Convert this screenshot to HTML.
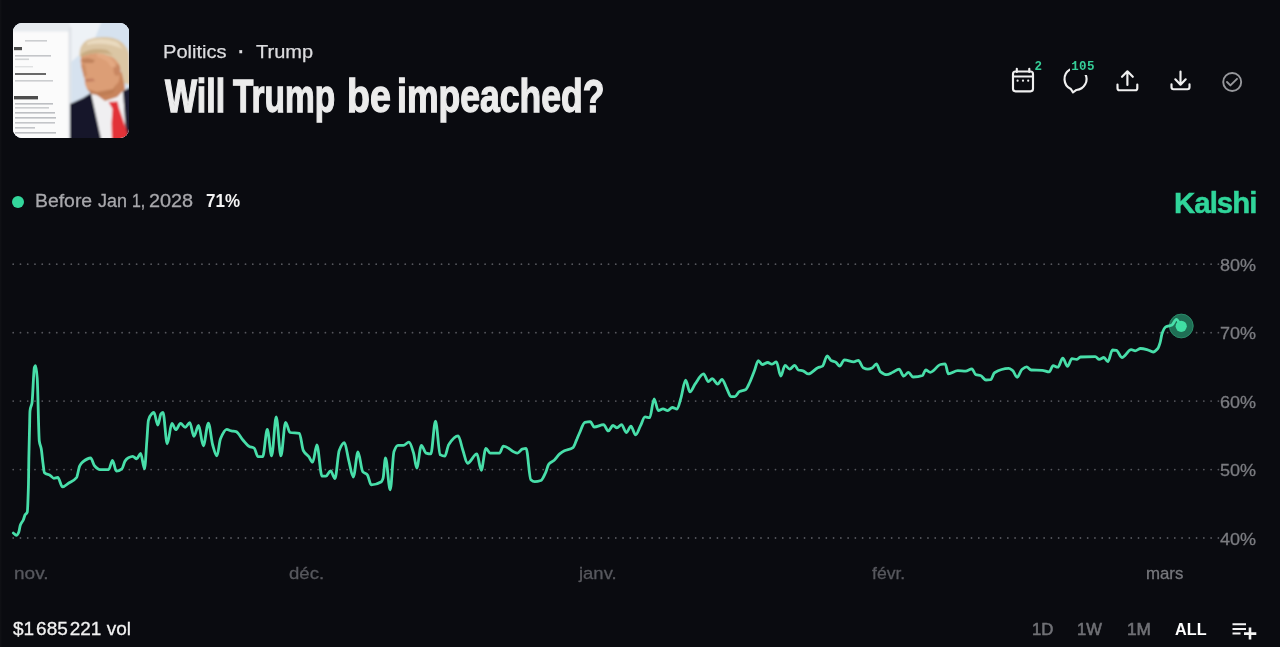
<!DOCTYPE html>
<html lang="fr"><head><meta charset="utf-8"><title>Will Trump be impeached?</title>
<style>
*{margin:0;padding:0;box-sizing:border-box}
html,body{width:1280px;height:647px;overflow:hidden;background:#0a0b10}
body{background:linear-gradient(to right,#111216 0,#0a0b10 2px)}
body{position:relative;font-family:"Liberation Sans",sans-serif;color:#fff}
.t{position:absolute;white-space:nowrap;transform-origin:0 50%}
.thumb{position:absolute;left:13px;top:23px;width:116px;height:115px;border-radius:9px;overflow:hidden;background:#e9eef3}
.dot{position:absolute;left:12.300px;top:195.900px;width:12px;height:12px;border-radius:50%;background:#33d69b}
.badge{position:absolute;font-family:"Liberation Mono",monospace;font-weight:700;font-size:12.500px;line-height:12px;letter-spacing:.3px;color:#36cf98;background:#0a0b10;white-space:nowrap}
svg{position:absolute;left:0;top:0;overflow:visible}
</style></head><body>

<div class="thumb">
<svg width="116" height="115" viewBox="0 0 116 115">
<defs><filter id="b1"><feGaussianBlur stdDeviation="1.2"/></filter><filter id="b2"><feGaussianBlur stdDeviation=".6"/></filter></defs>
<rect width="116" height="115" fill="#dfe8f1"/>
<g filter="url(#b1)">
<rect x="57" y="-5" width="70" height="95" fill="#d6e2ef"/>
<path d="M57 -5H90L80 20L57 40Z" fill="#eef2f6"/>
<rect x="-5" y="-5" width="62" height="14" fill="#e6eaee"/>
<rect x="-5" y="8.500" width="62" height="115" fill="#fbfbfb"/>
<rect x="55.500" y="4" width="3" height="115" fill="#dfe3e8"/>
<path d="M57 81L70 75L78 70L92 118L57 125Z" fill="#15182a"/>
<path d="M78 70L84 64L112 62L120 125H90Z" fill="#f0eff1"/>
<path d="M110 68L118 64V125H114Z" fill="#1b1e30"/>
<path d="M82 60L84 72L92 78L104 74L112 66L110 48Z" fill="#c8845c"/>
<path d="M68.500 30L67.500 38L68.500 44L70 50L71.500 55L72 61L74 66L80 70.500L90 71.500L100 68L106 58L108 42L100 30L84 25Z" fill="#dc9e76"/>
<path d="M68 36L75 35L82 37L80 40L70 40Z" fill="#b57852" opacity=".7"/>
<path d="M72 56L80 55.500L82 58L73 59Z" fill="#b66f55" opacity=".7"/>
<ellipse cx="104" cy="47" rx="3.500" ry="6" fill="#c98762"/>
<path d="M68 42L72 41L74 52L71 55Z" fill="#c98a63" opacity=".8"/>
<path d="M74 66L84 69L100 66L104 60L100 70L88 73L78 71Z" fill="#b9774f" opacity=".8"/>
<path d="M84 30Q94 30 100 38L104 44L98 44Q94 36 84 34Z" fill="#e8b08a" opacity=".6"/>
<path d="M66.500 33Q66 22 74 17Q86 12 100 15Q112 18 116 30L117 62L111 60Q109 50 106.500 42Q102 34 96 33Q84 27 67 34Z" fill="#dbc6a4"/>
<path d="M68 31Q78 24 94 27L100 32Q84 27 68 34Z" fill="#c9ac82"/>
<path d="M74 19Q88 13 104 19L110 26Q92 18 74 22Z" fill="#ecdfc6" opacity=".8"/>
<path d="M95.500 79L104.500 78.500L106 85L114.500 110L113 118L99 118L98.500 100L99.500 86Z" fill="#e23339"/>
</g>
<g filter="url(#b2)" fill="#9a9da2" opacity=".8">
<rect x="12" y="17" width="22" height="1.6" opacity=".6"/>
<rect x="1" y="24" width="8" height="3.2" fill="#222"/>
<rect x="2" y="32" width="36" height="1.6" opacity=".7"/><rect x="2" y="35.500" width="14" height="1.6" opacity=".5"/>
<rect x="2" y="43" width="18" height="1.4" opacity=".35"/>
<rect x="2" y="50" width="31" height="2" fill="#444"/>
<rect x="2" y="57" width="38" height="1.6" opacity=".6"/>
<rect x="1" y="73" width="24" height="3.4" fill="#222"/>
<rect x="2" y="80" width="38" height="1.6" opacity=".8"/><rect x="2" y="84" width="34" height="1.6" opacity=".6"/>
<rect x="2" y="89" width="40" height="1.6" opacity=".8"/><rect x="2" y="94" width="41" height="1.6" opacity=".8"/>
<rect x="2" y="99" width="40" height="1.6" opacity=".7"/><rect x="2" y="104" width="20" height="1.6" opacity=".7"/>
<rect x="2" y="109" width="41" height="1.6" opacity=".8"/>
</g>
</svg>
</div>


<div class="dot"></div>
<div class="t" style="left:165.45px;top:68.88px;transform:scaleX(0.7475);font-weight:700;font-size:45.5px;line-height:56px;color:#ececec;-webkit-text-stroke:1.3px #ececec;">Will</div>
<div class="t" style="left:233.00px;top:68.88px;transform:scaleX(0.7348);font-weight:700;font-size:45.5px;line-height:56px;color:#ececec;-webkit-text-stroke:1.3px #ececec;">Trump</div>
<div class="t" style="left:346.75px;top:68.88px;transform:scaleX(0.8260);font-weight:700;font-size:45.5px;line-height:56px;color:#ececec;-webkit-text-stroke:1.3px #ececec;">be</div>
<div class="t" style="left:397.19px;top:68.88px;transform:scaleX(0.7815);font-weight:700;font-size:45.5px;line-height:56px;color:#ececec;-webkit-text-stroke:1.3px #ececec;">impeached?</div>
<div class="t" style="left:163.28px;top:40.65px;transform:scaleX(1.1161);font-size:18px;line-height:22px;color:#dcdcdf;-webkit-text-stroke:.25px #dcdcdf;">Politics</div>
<div class="t" style="left:238.20px;top:40.65px;transform:scaleX(1.0000);font-size:18px;line-height:22px;color:#dcdcdf;-webkit-text-stroke:.25px #dcdcdf;font-weight:700;">·</div>
<div class="t" style="left:255.60px;top:40.65px;transform:scaleX(1.1108);font-size:18px;line-height:22px;color:#dcdcdf;-webkit-text-stroke:.25px #dcdcdf;">Trump</div>
<div class="t" style="left:35.42px;top:190.45px;transform:scaleX(1.0769);font-size:18px;line-height:22px;color:#a8a8ac;-webkit-text-stroke:.3px #a8a8ac;">Before</div>
<div class="t" style="left:98.20px;top:190.45px;transform:scaleX(0.9964);font-size:18px;line-height:22px;color:#a8a8ac;-webkit-text-stroke:.3px #a8a8ac;">Jan</div>
<div class="t" style="left:131.62px;top:190.45px;transform:scaleX(0.8846);font-size:18px;line-height:22px;color:#a8a8ac;-webkit-text-stroke:.3px #a8a8ac;">1,</div>
<div class="t" style="left:149.40px;top:190.45px;transform:scaleX(1.1026);font-size:18px;line-height:22px;color:#a8a8ac;-webkit-text-stroke:.3px #a8a8ac;">2028</div>
<div class="t" style="left:205.56px;top:190.45px;transform:scaleX(0.9429);font-size:18px;line-height:22px;font-weight:700;color:#f4f4f4;">71%</div>
<div class="t" style="left:1173.94px;top:184.55px;transform:scaleX(0.9802);font-size:30px;line-height:36px;font-weight:700;color:#30d59a;letter-spacing:-1px;-webkit-text-stroke:.5px #30d59a;">Kalshi</div>
<div class="t" style="left:12.50px;top:618.38px;transform:scaleX(0.9991);font-size:19px;line-height:22px;color:#f1f1f1;-webkit-text-stroke:.3px #f1f1f1;">$1<span style="font-size:7px"> </span>685<span style="font-size:7px"> </span>221 vol</div>
<div class="t" style="left:1032.22px;top:618.90px;transform:scaleX(0.9850);font-size:17px;line-height:22px;color:#707176;-webkit-text-stroke:.6px #707176;">1D</div>
<div class="t" style="left:1076.92px;top:618.90px;transform:scaleX(0.9760);font-size:17px;line-height:22px;color:#707176;-webkit-text-stroke:.6px #707176;">1W</div>
<div class="t" style="left:1126.69px;top:618.90px;transform:scaleX(1.0136);font-size:17px;line-height:22px;color:#707176;-webkit-text-stroke:.6px #707176;">1M</div>
<div class="t" style="left:1175.40px;top:618.90px;transform:scaleX(0.9545);font-size:17px;line-height:22px;color:#fff;font-weight:700;">ALL</div>
<div class="t" style="left:14.48px;top:563.88px;transform:scaleX(1.1179);font-size:17px;line-height:20px;color:#57585e;-webkit-text-stroke:.3px #57585e;">nov.</div>
<div class="t" style="left:288.66px;top:563.88px;transform:scaleX(1.0917);font-size:17px;line-height:20px;color:#57585e;-webkit-text-stroke:.3px #57585e;">déc.</div>
<div class="t" style="left:578.75px;top:563.88px;transform:scaleX(1.0864);font-size:17px;line-height:20px;color:#57585e;-webkit-text-stroke:.3px #57585e;">janv.</div>
<div class="t" style="left:871.90px;top:563.88px;transform:scaleX(1.0355);font-size:17px;line-height:20px;color:#57585e;-webkit-text-stroke:.3px #57585e;">févr.</div>
<div class="t" style="left:1145.91px;top:563.88px;transform:scaleX(0.9889);font-size:17px;line-height:20px;color:#77787d;-webkit-text-stroke:.3px #77787d;">mars</div>
<div class="t" style="left:1219.56px;top:255.80px;transform:scaleX(1.0600);font-size:17px;line-height:20px;color:#7b7c81;-webkit-text-stroke:.3px #7b7c81;">80%</div>
<div class="t" style="left:1219.56px;top:324.30px;transform:scaleX(1.0600);font-size:17px;line-height:20px;color:#7b7c81;-webkit-text-stroke:.3px #7b7c81;">70%</div>
<div class="t" style="left:1219.56px;top:392.70px;transform:scaleX(1.0600);font-size:17px;line-height:20px;color:#7b7c81;-webkit-text-stroke:.3px #7b7c81;">60%</div>
<div class="t" style="left:1219.56px;top:461.20px;transform:scaleX(1.0600);font-size:17px;line-height:20px;color:#7b7c81;-webkit-text-stroke:.3px #7b7c81;">50%</div>
<div class="t" style="left:1219.56px;top:529.60px;transform:scaleX(1.0600);font-size:17px;line-height:20px;color:#7b7c81;-webkit-text-stroke:.3px #7b7c81;">40%</div>

<svg width="1280" height="647" viewBox="0 0 1280 647">
<g stroke="#56575d" stroke-width="1.800" stroke-linecap="round" stroke-dasharray="0.01 7.25" fill="none"><line x1="13.2" x2="1219.5" y1="264.2" y2="264.2"/><line x1="13.2" x2="1219.5" y1="332.7" y2="332.7"/><line x1="13.2" x2="1219.5" y1="401.1" y2="401.1"/><line x1="13.2" x2="1219.5" y1="469.6" y2="469.6"/><line x1="13.2" x2="1219.5" y1="538.0" y2="538.0"/></g>
<circle cx="1181.300" cy="326" r="11.900" fill="#1f6f55" stroke="#2a8a68" stroke-width="1"/>
<path d="M13.3 533.0C14.3 533.8 15.4 535.3 16.4 535.3C17.2 535.3 18.0 533.9 18.8 532.2C19.3 531.1 19.8 526.6 20.3 525.2C21.3 522.4 22.4 522.0 23.4 519.7C23.9 518.5 24.5 516.0 25.0 515.0C25.8 513.6 26.5 514.1 27.3 511.9C27.7 510.9 28.0 499.9 28.4 486.9C28.6 481.0 28.7 464.1 28.9 455.6C29.1 445.4 29.3 438.0 29.5 430.0C29.7 423.3 29.8 412.3 30.0 410.9C30.7 405.2 31.3 407.1 32.0 403.0C32.8 398.1 33.6 369.0 34.4 367.2C34.8 366.3 35.2 365.6 35.6 365.6C36.1 365.6 36.7 371.6 37.2 378.0C37.9 386.4 38.6 436.2 39.3 441.0C39.9 445.4 40.6 445.1 41.2 448.5C41.8 451.7 42.4 459.1 43.0 463.4C43.5 467.0 44.0 472.3 44.5 472.8C46.3 474.6 48.2 474.1 50.0 475.2C51.3 475.9 52.6 478.3 53.9 478.3C55.2 478.3 56.5 477.5 57.8 477.5C59.4 477.5 60.9 486.9 62.5 486.9C64.6 486.9 66.7 484.4 68.8 483.0C71.4 481.3 74.0 480.9 76.6 477.5C77.6 476.1 78.7 467.8 79.7 465.8C80.7 463.9 81.8 462.7 82.8 461.9C85.4 459.9 88.0 458.0 90.6 458.0C91.9 458.0 93.2 464.4 94.5 465.8C96.3 467.8 98.2 469.7 100.0 469.7C102.9 469.7 105.7 469.7 108.6 469.7C109.9 469.7 111.2 460.3 112.5 460.3C113.8 460.3 115.1 471.2 116.4 471.2C118.2 471.2 120.1 470.3 121.9 468.9C122.9 468.1 124.0 462.6 125.0 461.1C126.0 459.6 127.1 458.5 128.1 458.0C129.7 457.2 131.2 456.4 132.8 456.4C134.1 456.4 135.4 458.8 136.7 458.8C138.0 458.8 139.3 453.3 140.6 453.3C141.9 453.3 143.2 468.9 144.5 468.9C145.3 468.9 146.1 450.1 146.9 440.0C147.4 433.7 147.9 422.2 148.4 420.3C149.5 416.3 150.5 415.0 151.6 414.0C152.4 413.3 153.1 412.5 153.9 412.5C155.2 412.5 156.5 425.0 157.8 425.0C158.8 425.0 159.9 415.2 160.9 414.0C161.6 413.2 162.3 412.5 163.0 412.5C164.4 412.5 165.8 443.8 167.2 443.8C168.8 443.8 170.3 423.4 171.9 423.4C173.2 423.4 174.5 429.7 175.8 429.7C177.4 429.7 178.9 423.4 180.5 423.4C182.1 423.4 183.6 427.3 185.2 427.3C186.7 427.3 188.3 422.7 189.8 422.7C191.2 422.7 192.5 436.4 193.9 436.4C195.5 436.4 197.0 425.5 198.6 425.5C200.2 425.5 201.7 445.8 203.3 445.8C205.0 445.8 206.7 423.1 208.4 423.1C209.8 423.1 211.3 440.1 212.7 445.0C214.1 449.8 215.5 455.9 216.9 455.9C218.1 455.9 219.3 441.6 220.5 438.8C222.6 433.8 224.6 429.4 226.7 429.4C228.3 429.4 229.8 430.6 231.4 430.9C233.0 431.2 234.5 431.3 236.1 431.7C238.4 432.4 240.8 437.7 243.1 440.3C245.2 442.6 247.3 445.6 249.4 446.6C251.0 447.3 252.5 447.2 254.1 448.1C255.4 448.8 256.7 456.7 258.0 456.7C259.6 456.7 261.1 456.7 262.7 456.7C264.2 456.7 265.8 429.4 267.3 429.4C268.7 429.4 270.2 455.9 271.6 455.9C273.2 455.9 274.7 416.9 276.2 416.9C277.8 416.9 279.3 455.9 280.9 455.9C282.5 455.9 284.0 422.3 285.6 422.3C287.1 422.3 288.5 432.2 290.0 432.5C293.1 433.1 296.3 432.7 299.4 433.3C300.7 433.6 302.0 448.1 303.3 450.5C305.1 453.9 306.9 454.4 308.8 456.7C310.1 458.4 311.4 462.2 312.7 462.2C314.1 462.2 315.5 445.0 316.9 445.0C318.6 445.0 320.3 476.2 322.0 476.2C323.3 476.2 324.6 476.2 325.9 476.2C327.5 476.2 329.0 470.8 330.6 470.8C332.1 470.8 333.5 478.6 335.0 478.6C336.4 478.6 337.8 454.0 339.2 450.5C340.9 446.2 342.7 442.7 344.4 442.7C345.8 442.7 347.2 454.4 348.6 459.8C350.2 465.8 351.7 477.0 353.3 477.0C354.9 477.0 356.4 452.0 358.0 452.0C359.6 452.0 361.1 469.8 362.7 471.6C364.2 473.4 365.8 473.0 367.3 474.7C368.6 476.1 369.9 484.8 371.2 484.8C374.6 484.8 378.0 483.9 381.4 481.7C382.0 481.3 382.5 480.0 383.1 478.1C383.9 475.5 384.7 457.8 385.5 457.8C387.1 457.8 388.6 489.8 390.2 489.8C391.5 489.8 392.7 455.1 394.0 451.6C395.3 447.9 396.7 445.3 398.0 445.3C399.8 445.3 401.6 445.3 403.4 445.3C405.2 445.3 407.1 442.2 408.9 442.2C410.5 442.2 412.0 448.1 413.6 453.1C414.6 456.4 415.7 468.0 416.7 468.0C418.3 468.0 419.8 445.3 421.4 445.3C423.0 445.3 424.5 452.6 426.1 453.1C427.7 453.6 429.2 453.9 430.8 453.9C432.4 453.9 433.9 421.1 435.5 421.1C437.1 421.1 438.6 453.7 440.2 454.7C441.7 455.7 443.3 456.2 444.8 456.2C446.1 456.2 447.4 446.5 448.8 444.5C451.9 439.8 455.0 435.9 458.1 435.9C459.7 435.9 461.2 445.4 462.8 450.0C464.4 454.6 465.9 463.3 467.5 463.3C470.6 463.3 473.8 453.9 476.9 453.9C478.3 453.9 479.8 470.3 481.2 470.3C482.8 470.3 484.3 448.4 485.9 448.4C487.3 448.4 488.8 453.1 490.2 453.1C493.3 453.1 496.4 453.1 499.5 453.1C500.8 453.1 502.1 446.1 503.4 446.1C508.1 446.1 512.8 453.1 517.5 453.1C519.1 453.1 520.6 449.7 522.2 449.2C523.5 448.8 524.8 448.4 526.1 448.4C527.7 448.4 529.2 478.3 530.8 479.7C532.1 480.8 533.4 481.6 534.7 481.6C536.8 481.6 538.8 481.2 540.9 480.5C542.5 480.0 544.0 476.0 545.6 472.7C546.6 470.5 547.7 465.4 548.8 464.1C550.6 461.9 552.4 461.8 554.2 460.2C556.0 458.6 557.9 455.4 559.7 453.9C561.3 452.6 562.8 451.6 564.4 450.8C567.3 449.4 570.1 449.7 573.0 447.7C574.3 446.8 575.6 442.0 576.9 439.1C577.7 437.2 578.6 435.1 579.4 433.3C581.2 429.4 583.0 422.7 584.8 422.3C586.6 421.9 588.5 421.6 590.3 421.6C591.6 421.6 592.9 427.0 594.2 427.0C597.3 427.0 600.5 424.7 603.6 424.7C605.2 424.7 606.7 430.9 608.3 430.9C609.9 430.9 611.4 425.5 613.0 425.5C614.3 425.5 615.6 427.8 616.9 427.8C618.5 427.8 620.0 424.7 621.6 424.7C623.1 424.7 624.7 432.5 626.2 432.5C627.8 432.5 629.4 426.2 630.9 426.2C632.5 426.2 634.0 434.8 635.6 434.8C637.2 434.8 638.7 429.2 640.3 426.2C641.9 423.3 643.4 416.9 645.0 416.9C646.6 416.9 648.1 417.7 649.7 417.7C651.2 417.7 652.6 398.9 654.1 398.9C655.5 398.9 656.9 410.6 658.3 410.6C659.9 410.6 661.4 408.8 663.0 408.8C664.6 408.8 666.1 410.6 667.7 410.6C669.2 410.6 670.8 407.5 672.3 407.5C673.9 407.5 675.4 409.1 677.0 409.1C678.3 409.1 679.6 402.3 680.9 398.1C682.5 393.0 684.0 380.2 685.6 380.2C687.1 380.2 688.5 391.9 690.0 391.9C691.7 391.9 693.3 386.4 695.0 384.1C697.9 380.2 700.7 373.9 703.6 373.9C705.2 373.9 706.7 381.7 708.3 381.7C709.6 381.7 710.9 378.6 712.2 378.6C714.0 378.6 715.9 384.1 717.7 384.1C719.1 384.1 720.5 379.4 721.9 379.4C723.4 379.4 724.8 384.4 726.2 387.2C727.8 390.1 729.4 396.6 730.9 396.6C732.2 396.6 733.5 396.6 734.8 396.6C736.4 396.6 737.9 392.4 739.5 391.6C741.6 390.5 743.7 390.7 745.8 389.5C747.1 388.7 748.4 385.2 749.7 382.5C751.3 379.2 752.8 374.8 754.4 370.8C755.7 367.5 757.0 360.6 758.3 360.6C759.6 360.6 760.9 364.5 762.2 364.5C764.1 364.5 765.9 362.5 767.8 362.5C769.1 362.5 770.4 364.2 771.7 364.2C773.3 364.2 774.8 361.9 776.4 361.9C777.9 361.9 779.3 376.2 780.8 376.2C782.2 376.2 783.6 365.3 785.0 365.3C786.6 365.3 788.1 369.2 789.7 369.2C791.4 369.2 793.0 365.3 794.7 365.3C795.9 365.3 797.1 369.6 798.3 370.0C799.9 370.5 801.4 370.4 803.0 370.8C804.8 371.3 806.6 373.9 808.4 373.9C811.5 373.9 814.7 369.1 817.8 367.7C819.4 367.0 820.9 367.0 822.5 366.1C824.1 365.2 825.6 355.9 827.2 355.9C828.5 355.9 829.8 359.9 831.1 360.6C832.7 361.4 834.2 361.4 835.8 362.2C837.1 362.9 838.4 366.1 839.7 366.1C841.3 366.1 842.8 359.8 844.4 359.8C847.5 359.8 850.6 361.9 853.8 361.9C855.3 361.9 856.9 360.3 858.4 360.3C860.0 360.3 861.5 366.9 863.1 367.7C864.7 368.5 866.2 369.2 867.8 369.2C869.4 369.2 870.9 368.5 872.5 367.7C873.8 367.1 875.1 363.8 876.4 363.8C877.7 363.8 879.0 370.5 880.3 371.6C882.4 373.3 884.5 374.7 886.6 374.7C888.7 374.7 890.7 373.2 892.8 372.3C894.9 371.4 897.0 369.2 899.1 369.2C900.6 369.2 902.2 376.2 903.8 376.2C905.3 376.2 906.9 372.3 908.4 372.3C910.0 372.3 911.5 377.0 913.1 377.0C916.2 377.0 919.4 376.6 922.5 375.5C923.5 375.1 924.6 370.0 925.6 370.0C927.2 370.0 928.7 372.3 930.3 372.3C933.7 372.3 937.1 365.3 940.5 364.5C942.1 364.1 943.6 363.8 945.2 363.8C946.2 363.8 947.3 373.9 948.3 373.9C951.5 373.9 954.6 370.6 957.8 370.6C960.4 370.6 963.0 371.1 965.6 371.1C967.7 371.1 969.8 368.8 971.9 368.8C973.2 368.8 974.5 374.3 975.8 374.7C977.4 375.2 978.9 375.1 980.5 375.5C982.3 376.0 984.1 380.0 985.9 380.0C987.5 380.0 989.0 379.9 990.6 379.7C991.9 379.5 993.2 373.5 994.5 372.7C999.2 369.9 1003.9 368.4 1008.6 368.4C1009.9 368.4 1011.2 369.4 1012.5 370.3C1014.1 371.4 1015.6 377.3 1017.2 377.3C1018.8 377.3 1020.3 370.8 1021.9 369.5C1023.5 368.2 1025.0 366.9 1026.6 366.9C1028.1 366.9 1029.7 369.9 1031.2 370.0C1034.9 370.2 1038.5 370.1 1042.2 370.3C1044.5 370.4 1046.9 371.9 1049.2 371.9C1050.5 371.9 1051.8 365.6 1053.1 365.6C1054.7 365.6 1056.2 367.2 1057.8 367.2C1059.5 367.2 1061.1 358.1 1062.8 358.1C1064.4 358.1 1065.9 366.4 1067.5 366.4C1069.0 366.4 1070.4 358.6 1071.9 358.6C1073.5 358.6 1075.0 359.4 1076.6 359.4C1077.9 359.4 1079.2 357.1 1080.5 357.0C1085.4 356.7 1090.4 356.6 1095.3 356.6C1096.6 356.6 1097.9 359.4 1099.2 359.4C1100.8 359.4 1102.3 357.5 1103.9 357.5C1105.2 357.5 1106.5 361.7 1107.8 361.7C1109.4 361.7 1110.9 350.0 1112.5 350.0C1113.8 350.0 1115.1 350.1 1116.4 350.3C1118.2 350.6 1120.1 357.5 1121.9 357.5C1125.0 357.5 1128.1 349.7 1131.2 349.7C1132.6 349.7 1133.9 350.8 1135.2 350.8C1137.0 350.8 1138.8 348.5 1140.6 348.5C1142.9 348.5 1145.3 349.2 1147.6 349.8C1149.5 350.3 1151.3 352.0 1153.2 352.0C1154.7 352.0 1156.1 350.5 1157.6 348.8C1158.4 347.8 1159.3 345.3 1160.1 342.6C1160.7 340.5 1161.4 335.6 1162.0 333.8C1163.2 330.4 1164.5 327.6 1165.7 326.9C1167.8 325.7 1169.9 326.1 1172.0 325.0C1173.4 324.3 1174.9 319.4 1176.3 319.4C1177.9 319.4 1179.6 324.0 1181.2 326.3" fill="none" stroke="#48dea9" stroke-width="2.800" stroke-linejoin="round" stroke-linecap="round"/>
<circle cx="1181.2" cy="326.3" r="5.6" fill="#40dea4"/>

<!-- header icons -->
<g fill="none" stroke="#f0f0f0" stroke-width="2.150" stroke-linecap="round" stroke-linejoin="round">
 <!-- calendar -->
 <rect x="1013" y="71.500" width="20" height="19.800" rx="2.500"/>
 <path d="M1013 76.500H1033M1016.800 68.800V72M1029.300 68.800V72"/>
 <!-- chat -->
 <path d="M1069.800 69.600A11 11 0 0 0 1070.850 88.970L1073 92.300L1076.460 89.960A11 11 0 0 0 1085.300 73.900"/>
 <!-- upload -->
 <path d="M1127.400 85V71.500M1122 76.800L1127.400 71.300L1132.800 76.800M1117.500 84.600V88.200Q1117.500 90.200 1119.500 90.200H1135.300Q1137.300 90.200 1137.300 88.200V84.600"/>
 <!-- download -->
 <path d="M1180.500 71.500V84.500M1175.300 79.300L1180.500 84.700L1185.700 79.300M1171.500 84.200V87.300Q1171.500 89.200 1173.500 89.200H1187.500Q1189.500 89.200 1189.500 87.300V84.200"/>
</g>
<g fill="#f0f0f0"><circle cx="1017.600" cy="80.700" r="1.100"/><circle cx="1023" cy="80.700" r="1.100"/><circle cx="1028.200" cy="80.700" r="1.100"/></g>
<g fill="none" stroke="#97989c" stroke-width="1.900" stroke-linecap="round" stroke-linejoin="round">
 <circle cx="1232.200" cy="82" r="9"/>
 <path d="M1227 82L1230.400 85.400L1237 78.800"/>
</g>
<!-- range icon -->
<g fill="none" stroke="#f4f4f4" stroke-width="2">
 <path d="M1232.500 624.200H1246M1232.500 628.900H1246M1232.500 633.600H1240.500"/>
 <path d="M1250 627.500V639.500M1244 633.600H1256.300" stroke-width="2.600"/>
</g>
</svg>

<div class="badge" style="left:1034.500px;top:60.500px;padding:0 1px 1px 0">2</div>
<div class="badge" style="left:1070.300px;top:60.500px;padding:0 1px 2px 1px">105</div>




</body></html>
